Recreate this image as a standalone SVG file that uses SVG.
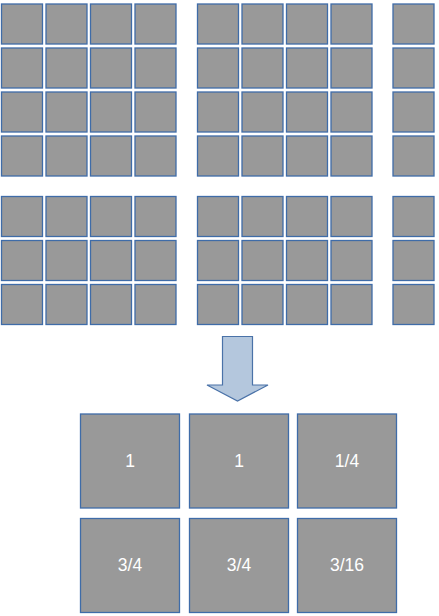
<svg xmlns="http://www.w3.org/2000/svg" width="439" height="616" viewBox="0 0 439 616">
<style>
.c{fill:#999999;stroke:#3f6ca8;stroke-width:1.3}
.b{fill:#999999;stroke:#3f6ca8;stroke-width:1.3}
.t{font-family:"Liberation Sans",Arial,sans-serif;font-size:17.5px;fill:#ffffff;text-anchor:middle}
</style>
<defs>
<rect id="s" width="41" height="40" class="c"/>
<g id="row">
<use href="#s" x="1.5"/><use href="#s" x="46"/><use href="#s" x="90.5"/><use href="#s" x="135"/>
<use href="#s" x="197.5"/><use href="#s" x="242"/><use href="#s" x="286.5"/><use href="#s" x="331"/>
<use href="#s" x="393"/>
</g>
</defs>
<g id="grid-top">
<use href="#row" y="4"/>
<use href="#row" y="48"/>
<use href="#row" y="92"/>
<use href="#row" y="136"/>
</g>
<g id="grid-bottom">
<use href="#row" y="196.5"/>
<use href="#row" y="240.5"/>
<use href="#row" y="284.5"/>
</g>
<g id="connectors">
<path d="M222.5,336.5 H252.5 V385 H268 L237.5,401 L207,385 H222.5 Z" fill="#b4c7dd" stroke="#4a72a8" stroke-width="1.2"/>
</g>
<g id="n1"><rect x="80.5" y="414" width="99" height="94" class="b"/><text x="130" y="467" class="t">1</text></g>
<g id="n2"><rect x="189.5" y="414" width="99" height="94" class="b"/><text x="239" y="467" class="t">1</text></g>
<g id="n3"><rect x="297.5" y="414" width="99" height="94" class="b"/><text x="347" y="467" class="t">1/4</text></g>
<g id="n4"><rect x="80.5" y="518.5" width="99" height="94" class="b"/><text x="130" y="570.5" class="t">3/4</text></g>
<g id="n5"><rect x="189.5" y="518.5" width="99" height="94" class="b"/><text x="239" y="570.5" class="t">3/4</text></g>
<g id="n6"><rect x="297.5" y="518.5" width="99" height="94" class="b"/><text x="347" y="570.5" class="t">3/16</text></g>
</svg>
